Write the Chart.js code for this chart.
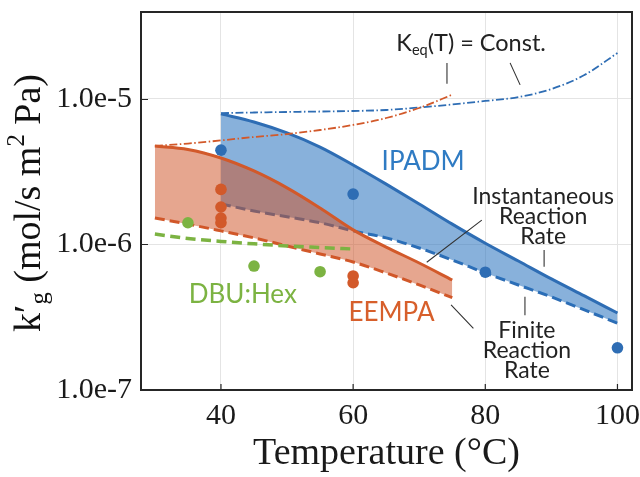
<!DOCTYPE html>
<html>
<head>
<meta charset="utf-8">
<script src="https://cdn.jsdelivr.net/npm/chart.js@4.4.1/dist/chart.umd.min.js"></script>
<style>
  html, body { margin: 0; padding: 0; background: #fff; }
  #wrap { width: 640px; height: 477px; }
</style>
</head>
<body>
<div id="wrap"><canvas id="chart" width="640" height="477"></canvas></div>
<script>
// temperatures (°C) for the model curves
const tIpadm = [40, 45, 50, 55, 60, 65, 70, 75, 80, 85, 90, 95, 100];
const tEempa = [30, 35, 40, 45, 50, 55, 60, 65, 70, 75];
const tDbu = [30, 35, 40, 45, 50, 55, 60];

// k'g (mol/s m2 Pa)
const ipadmInst = [7.9e-6, 6.95e-6, 5.84e-6, 4.67e-6, 3.52e-6, 2.6e-6, 1.9e-6, 1.38e-6, 1.02e-6, 7.7e-7, 5.8e-7, 4.43e-7, 3.38e-7];
const ipadmFinite = [1.9e-6, 1.7e-6, 1.55e-6, 1.41e-6, 1.24e-6, 1.11e-6, 9.46e-7, 7.82e-7, 6.37e-7, 5.27e-7, 4.36e-7, 3.55e-7, 2.88e-7];
const ipadmKeq = [7.99e-6, 8.07e-6, 8.14e-6, 8.2e-6, 8.27e-6, 8.4e-6, 8.74e-6, 9.17e-6, 9.69e-6, 1.03e-5, 1.17e-5, 1.46e-5, 2.07e-5];

const eempaInst = [4.75e-6, 4.5e-6, 3.93e-6, 3.2e-6, 2.45e-6, 1.78e-6, 1.26e-6, 9.6e-7, 7.46e-7, 5.7e-7];
const eempaFinite = [1.52e-6, 1.38e-6, 1.24e-6, 1.11e-6, 9.77e-7, 8.61e-7, 7.58e-7, 6.37e-7, 5.27e-7, 4.31e-7];
const eempaKeq = [4.75e-6, 4.94e-6, 5.19e-6, 5.48e-6, 5.74e-6, 6.12e-6, 6.63e-6, 7.4e-6, 8.67e-6, 1.07e-5];

const dbuFinite = [1.18e-6, 1.1e-6, 1.05e-6, 1.01e-6, 9.77e-7, 9.53e-7, 9.31e-7];

// measured points
const ipadmExpT = [40, 60, 80, 100];
const ipadmExp = [4.45e-6, 2.22e-6, 6.45e-7, 1.95e-7];
const eempaExpT = [40, 40, 40, 40, 60, 60];
const eempaExp = [2.39e-6, 1.81e-6, 1.52e-6, 1.41e-6, 6.08e-7, 5.46e-7];
const dbuExpT = [35, 45, 55];
const dbuExp = [1.41e-6, 7.11e-7, 6.5e-7];

// axes
const xTicks = [40, 60, 80, 100];
const yMajorTicks = [1e-7, 1e-6, 1e-5];
const yTickLabels = ['1.0e-7', '1.0e-6', '1.0e-5'];

const BLUE = '#2e6db4';
const ORANGE = '#d2592a';
const GREEN = '#7cb342';
const SERIF = "'Liberation Serif', 'Times New Roman', serif";
const SANS = "Lato, 'Open Sans', sans-serif";

function pts(xs, ys) {
    return xs.map((x, i) => ({ x, y: ys[i] }));
}

function curve(label, xs, ys, color, extra) {
    return Object.assign({
        label,
        data: pts(xs, ys),
        borderColor: color,
        backgroundColor: color,
        borderWidth: 3,
        pointRadius: 0,
        fill: false,
        cubicInterpolationMode: 'monotone',
    }, extra);
}

function dots(label, xs, ys, color) {
    return {
        label,
        data: pts(xs, ys),
        showLine: false,
        pointRadius: 5.8,
        pointBorderWidth: 0,
        pointBackgroundColor: color,
        borderColor: color,
        order: 0,
    };
}

const dashDot = [8, 2.5, 1.5, 2.5];

const datasets = [
    curve('EEMPA instantaneous', tEempa, eempaInst, ORANGE, { fill: '+1', backgroundColor: 'rgba(208,85,40,0.52)', order: 2 }),
    curve('EEMPA finite', tEempa, eempaFinite, ORANGE, { borderDash: [10, 5], order: 2 }),
    curve('IPADM instantaneous', tIpadm, ipadmInst, BLUE, { fill: '+1', backgroundColor: 'rgba(38,113,190,0.55)', order: 3 }),
    curve('IPADM finite', tIpadm, ipadmFinite, BLUE, { borderDash: [10, 5], order: 3 }),
    curve('DBU:Hex finite', tDbu, dbuFinite, GREEN, { borderDash: [10, 5.5], borderWidth: 3.5, order: 1 }),
    curve('EEMPA Keq const', tEempa, eempaKeq, ORANGE, { borderDash: dashDot, borderWidth: 1.8, order: 1 }),
    curve('IPADM Keq const', tIpadm, ipadmKeq, BLUE, { borderDash: dashDot, borderWidth: 1.8, order: 1 }),
    dots('IPADM data', ipadmExpT, ipadmExp, BLUE),
    dots('EEMPA data', eempaExpT, eempaExp, ORANGE),
    dots('DBU:Hex data', dbuExpT, dbuExp, GREEN),
];

function isMajor(v) {
    const l = Math.log10(v);
    return Math.abs(l - Math.round(l)) < 1e-6;
}

const Y_MIN = 1e-7;
const Y_MAX = 3.96e-5;

// text annotations, placed in data units
const notes = [
    { text: 'IPADM', t: 70.6, v: 3.71e-6, color: '#2f7bc3', size: 26 },
    { text: 'EEMPA', t: 65.8, v: 3.41e-7, color: '#d75f2b', size: 26 },
    { text: 'DBU:Hex', t: 43.3, v: 4.5e-7, color: GREEN, size: 26 },
    { text: 'Instantaneous', t: 88.75, v: 2.13e-6, color: '#222', size: 23 },
    { text: 'Reaction', t: 88.75, v: 1.55e-6, color: '#222', size: 23 },
    { text: 'Rate', t: 88.75, v: 1.13e-6, color: '#222', size: 23 },
    { text: 'Finite', t: 86.3, v: 2.58e-7, color: '#222', size: 23 },
    { text: 'Reaction', t: 86.3, v: 1.88e-7, color: '#222', size: 23 },
    { text: 'Rate', t: 86.3, v: 1.37e-7, color: '#222', size: 23 },
];

const leaders = [
    [74.2, 1.77e-5, 74.2, 1.27e-5],
    [83.75, 1.77e-5, 85.27, 1.25e-5],
    [79.47, 1.47e-6, 71.14, 7.55e-7],
    [88.9, 9.17e-7, 88.9, 7.03e-7],
    [86.0, 4.38e-7, 86.0, 3.27e-7],
    [74.82, 3.84e-7, 78.2, 2.65e-7],
];

function drawParts(ctx, parts, base, cx, cy) {
    const widths = parts.map((p) => {
        ctx.font = `${base * p.s}px ${p.family}`;
        return ctx.measureText(p.t).width;
    });
    const total = widths.reduce((a, b) => a + b, 0);
    let cur = cx - total / 2;
    parts.forEach((p, i) => {
        ctx.font = `${base * p.s}px ${p.family}`;
        ctx.fillText(p.t, cur, cy + (p.dy || 0) * base);
        cur += widths[i];
    });
}

const decorate = {
    id: 'decorate',
    afterDraw(chart) {
        const { ctx, chartArea: a, scales: { x, y } } = chart;
        const X = (v) => x.getPixelForValue(v);
        const Y = (v) => y.getPixelForValue(v);
        ctx.save();

        // inner tick marks
        ctx.strokeStyle = '#262626';
        ctx.lineWidth = 1.2;
        ctx.beginPath();
        x.ticks.forEach((tk) => {
            const px = X(tk.value);
            ctx.moveTo(px, a.bottom);
            ctx.lineTo(px, a.bottom - 6);
        });
        y.ticks.forEach((tk) => {
            const py = Math.round(Y(tk.value)) + 0.5;
            ctx.moveTo(a.left, py);
            ctx.lineTo(a.left + (isMajor(tk.value) ? 7 : 4.5), py);
        });
        ctx.stroke();

        // frame
        ctx.lineWidth = 2;
        ctx.strokeRect(a.left, a.top, a.width, a.height);

        // leader lines
        ctx.strokeStyle = '#333';
        ctx.lineWidth = 1.1;
        ctx.beginPath();
        leaders.forEach(([t1, v1, t2, v2]) => {
            ctx.moveTo(X(t1), Y(v1));
            ctx.lineTo(X(t2), Y(v2));
        });
        ctx.stroke();

        // labels
        ctx.textAlign = 'center';
        ctx.textBaseline = 'middle';
        notes.forEach((n) => {
            ctx.fillStyle = n.color;
            ctx.font = `${n.size}px ${SANS}`;
            ctx.fillText(n.text, X(n.t), Y(n.v));
        });

        ctx.textAlign = 'left';
        ctx.fillStyle = '#222';
        drawParts(ctx, [
            { t: 'K', s: 1, family: SANS },
            { t: 'eq', s: 0.62, dy: 0.3, family: SANS },
            { t: '(T) = Const.', s: 1, family: SANS },
        ], 23.5, X(77.85), Y(2.4e-5));

        // y axis title, rotated
        ctx.translate(30, (a.top + a.bottom) / 2 + 2);
        ctx.rotate(-Math.PI / 2);
        ctx.fillStyle = '#111';
        drawParts(ctx, [
            { t: 'k', s: 1, family: SERIF },
            { t: '\u2032', s: 1, family: SERIF },
            { t: 'g', s: 0.65, dy: 0.28, family: SERIF },
            { t: ' (mol/s m', s: 1, family: SERIF },
            { t: '2', s: 0.65, dy: -0.32, family: SERIF },
            { t: ' Pa)', s: 1, family: SERIF },
        ], 38, 0, 0);

        ctx.restore();
    },
};

new Chart(document.getElementById('chart'), {
    type: 'line',
    data: { datasets },
    options: {
        responsive: false,
        animation: false,
        devicePixelRatio: 1,
        layout: { padding: { top: 12, right: 8, left: 0, bottom: 0 } },
        plugins: {
            legend: { display: false },
            tooltip: { enabled: false },
            filler: { propagate: false },
        },
        scales: {
            x: {
                type: 'linear',
                min: 27.9,
                max: 102.2,
                afterBuildTicks: (s) => { s.ticks = xTicks.map((v) => ({ value: v })); },
                afterFit: (s) => {
                    s.height = 87;
                    s.paddingLeft = 0;
                    s.paddingRight = 0;
                },
                grid: { color: '#e4e4e4', lineWidth: 1, drawTicks: false },
                border: { display: false },
                ticks: {
                    autoSkip: false,
                    maxRotation: 0,
                    padding: 8,
                    color: '#1a1a1a',
                    font: { family: SERIF, size: 30 },
                },
                title: {
                    display: true,
                    text: 'Temperature (°C)',
                    color: '#1a1a1a',
                    font: { family: SERIF, size: 38 },
                    padding: { top: 0, bottom: 0 },
                },
            },
            y: {
                type: 'logarithmic',
                min: Y_MIN,
                max: Y_MAX,
                afterBuildTicks: (s) => {
                    const ticks = [];
                    for (let e = -7; e <= -5; e++) {
                        for (let m = 1; m <= 9; m++) {
                            const v = m * Math.pow(10, e);
                            if (v >= Y_MIN && v <= Y_MAX) ticks.push({ value: v });
                        }
                    }
                    s.ticks = ticks;
                },
                afterFit: (s) => {
                    s.width = 141;
                    s.paddingTop = 0;
                    s.paddingBottom = 0;
                },
                grid: { color: '#e4e4e4', lineWidth: 1, drawTicks: false },
                border: { display: false },
                ticks: {
                    autoSkip: false,
                    padding: 9,
                    color: '#1a1a1a',
                    font: { family: SERIF, size: 30 },
                    callback: (v) => {
                        const i = yMajorTicks.findIndex((m) => Math.abs(m - v) / m < 1e-6);
                        return i >= 0 ? yTickLabels[i] : null;
                    },
                },
            },
        },
    },
    plugins: [decorate],
});
</script>
</body>
</html>
